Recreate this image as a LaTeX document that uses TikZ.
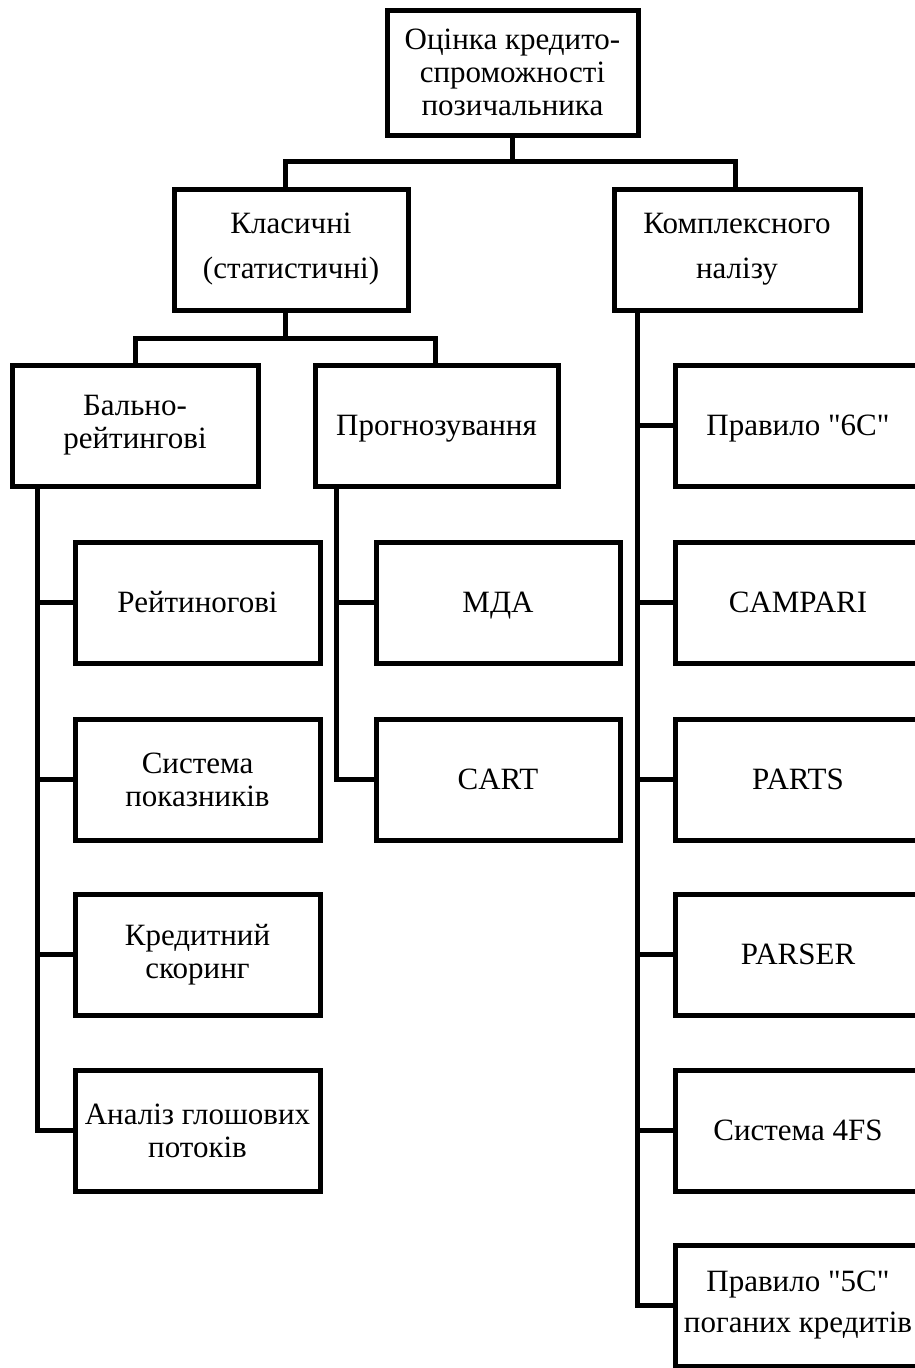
\documentclass[tikz,border=0pt]{standalone}
\usepackage{fontspec}
\setmainfont{Liberation Serif}[Ligatures=TeXOff]
\begin{document}
\begin{tikzpicture}[x=1pt,y=-1pt,
  box/.style={draw=black,line width=5pt,fill=white,rectangle,align=center,
    inner sep=0pt,font=\fontsize{31}{33}\selectfont},
  nd/.style={text depth=0pt},
  lnk/.style={draw=black,line width=5pt}]
\useasboundingbox (0,0) rectangle (915,1368);
\clip (0,0) rectangle (915,1368);
\fill[white] (0,0) rectangle (915,1368);
% level 0
\node[box,minimum width=251pt,minimum height=125pt] (top) at (512.5,72.5) {Оцінка кредито-\\спроможності\\позичальника};
% level 1
\node[box,minimum width=234pt,minimum height=121pt] (kl) at (291,249.5) {Класичні\\[12pt](статистичні)};
\node[box,minimum width=246pt,minimum height=121pt] (ka) at (737,249.5) {Комплексного\\[12pt]налізу};
% level 2
\node[box,minimum width=246pt,minimum height=121pt] (bal) at (135,425.5) {Бально-\\рейтингові};
\node[box,nd,minimum width=243pt,minimum height=121pt] (pr) at (436.5,425.5) {Прогнозування};
% left column
\tikzset{lc/.style={box,minimum width=245pt,minimum height=121pt}}
\node[lc] (r1) at (197.5,602.5) {Рейтиногові};
\node[lc] (r2) at (197.5,779.5) {Система\\показників};
\node[lc] (r3) at (197.5,954.5) {Кредитний\\скоринг};
\node[lc] (r4) at (197.5,1130.5) {Аналіз глошових\\потоків};
% middle column
\tikzset{mc/.style={box,minimum width=244pt,minimum height=121pt}}
\node[mc,nd] (m1) at (498,602.5) {МДА};
\node[mc] (m2) at (498,779.5) {CART};
% right column
\tikzset{rc/.style={box,minimum width=246pt,minimum height=121pt}}
\node[rc,nd] (c1) at (798,425.5) {Правило "6С"};
\node[rc] (c2) at (798,602.5) {CAMPARI};
\node[rc] (c3) at (798,779.5) {PARTS};
\node[rc] (c4) at (798,954.5) {PARSER};
\node[rc] (c5) at (798,1130.5) {Система 4FS};
\node[rc] (c6) at (798,1305.5) {Правило "5С"\\[8pt]поганих кредитів};
% junction coordinates
\coordinate (h0) at (512.5,161);
\coordinate (h1) at (285,338);
\coordinate (tl) at (37,0);
\coordinate (tm) at (336,0);
\coordinate (tr) at (637,0);
% connectors level 0 -> 1
\draw[lnk] (top.south) -- (h0);
\draw[lnk,line join=miter] ([xshift=-6pt]kl.north) |- (h0) -| ([xshift=-2pt]ka.north);
% level 1 -> 2
\draw[lnk] ([xshift=-6pt]kl.south) -- (h1);
\draw[lnk,line join=miter] (bal.north) |- (h1) -| ([xshift=-1.5pt]pr.north);
% left trunk
\draw[lnk,line join=miter] (bal.south -| tl) |- (r4.west);
\draw[lnk] (r1.west -| tl) -- (r1.west);
\draw[lnk] (r2.west -| tl) -- (r2.west);
\draw[lnk] (r3.west -| tl) -- (r3.west);
% middle trunk
\draw[lnk,line join=miter] (pr.south -| tm) |- (m2.west);
\draw[lnk] (m1.west -| tm) -- (m1.west);
% right trunk
\draw[lnk,line join=miter] (ka.south -| tr) |- (c6.west);
\draw[lnk] (c1.west -| tr) -- (c1.west);
\draw[lnk] (c2.west -| tr) -- (c2.west);
\draw[lnk] (c3.west -| tr) -- (c3.west);
\draw[lnk] (c4.west -| tr) -- (c4.west);
\draw[lnk] (c5.west -| tr) -- (c5.west);
\end{tikzpicture}
\end{document}
